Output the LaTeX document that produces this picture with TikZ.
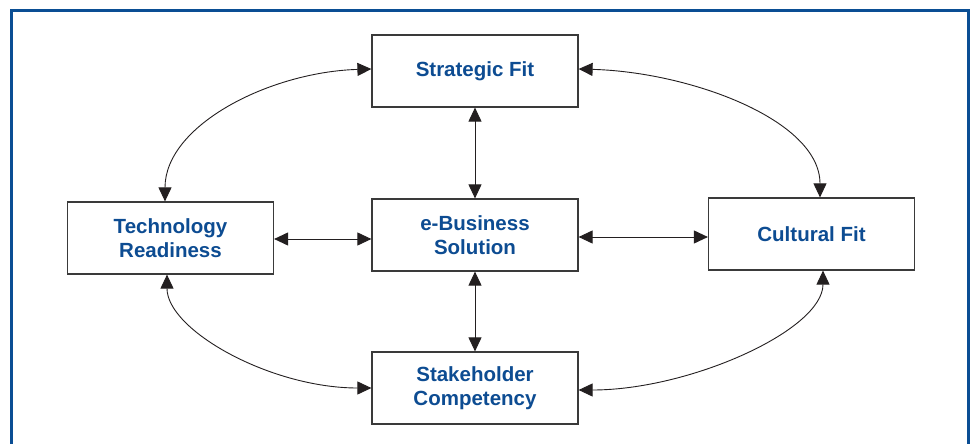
\documentclass[tikz,border=0pt]{standalone}
\usepackage{fontspec}
\setmainfont{Liberation Sans}
\usetikzlibrary{arrows.meta}
\definecolor{frameblue}{HTML}{0A4E94}
\definecolor{textblue}{HTML}{0D4C92}
\definecolor{boxline}{HTML}{3A3A3A}
\definecolor{arrowcol}{HTML}{231F20}
\tikzset{
  box/.style={draw=boxline, line width=1.2pt, fill=white, rectangle, minimum width=206pt, minimum height=72pt, inner sep=0pt, align=center, text=textblue, font=\fontsize{20.5}{24}\selectfont\bfseries},
  tip/.tip={Triangle[length=14pt,width=13pt]},
  conn/.style={draw=arrowcol, line width=0.9pt, {tip}-{tip}}
}
\begin{document}
\begin{tikzpicture}[x=1pt,y=-1pt]
\useasboundingbox (0,0) rectangle (970,444);
\begin{scope}
\clip (0,0) rectangle (970,444);
\draw[frameblue, line width=3pt] (11.5,10.5) rectangle (968.5,470);
\end{scope}
\node[box] (sf) at (475,71) {Strategic Fit};
\node[box] (tr) at (170.5,238) {Technology\\Readiness};
\node[box] (eb) at (475,235) {e-Business\\Solution};
\node[box] (cf) at (811.5,234) {Cultural Fit};
\node[box] (sc) at (475,388) {Stakeholder\\Competency};
% straight connectors
\draw[conn] (sf.south) -- (eb.north);
\draw[conn] (eb.south) -- (sc.north);
\draw[conn] (tr.east |- 0,239) -- (eb.west |- 0,239);
\draw[conn] (eb.east |- 0,237) -- (cf.west |- 0,237);
% curved connectors
\coordinate (sfw) at (sf.west |- 0,69);
\coordinate (sfe) at (sf.east |- 0,69);
\coordinate (trn) at (tr.north -| 165,0);
\coordinate (trs) at (tr.south -| 167,0);
\coordinate (cfn) at (cf.north -| 820,0);
\coordinate (cfs) at (cf.south -| 823,0);
\coordinate (scw) at (sc.west |- 0,388);
\coordinate (sce) at (sc.east |- 0,390);
\draw[conn] (sfw) .. controls (270,72) and (165,125) .. (trn);
\draw[conn] (sfe) .. controls (690,72) and (820,120) .. (cfn);
\draw[conn] (trs) .. controls (167,330) and (270,388) .. (scw);
\draw[conn] (cfs) .. controls (823,330) and (690,390) .. (sce);
\end{tikzpicture}
\end{document}
